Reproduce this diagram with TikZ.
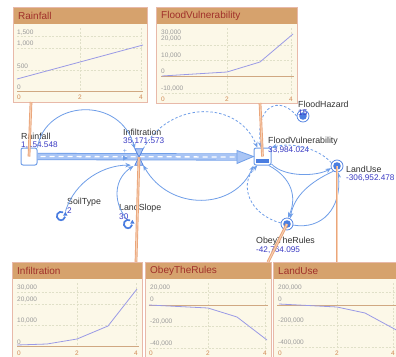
\documentclass[tikz,border=0pt]{standalone}
\usepackage{fontspec}
\setmainfont{Liberation Sans}
\usetikzlibrary{arrows.meta}
\definecolor{lnk}{HTML}{6F9EE8}
\definecolor{dkb}{HTML}{4A7DE0}
\definecolor{pipef}{HTML}{A9C5F5}
\definecolor{valc}{HTML}{3B3BC4}
\definecolor{labc}{HTML}{333333}
\definecolor{hdr}{HTML}{D6A26D}
\definecolor{pbg}{HTML}{FCF8E8}
\definecolor{pbd}{HTML}{E8B9A9}
\definecolor{ttl}{HTML}{A0302A}
\definecolor{axl}{HTML}{9A9A9A}
\definecolor{xl}{HTML}{D08A55}
\definecolor{chl}{HTML}{9A9AE6}
\definecolor{zer}{HTML}{D0A882}
\definecolor{grd}{HTML}{E0E0C8}
\definecolor{orl}{HTML}{EAA57A}
\definecolor{orc}{HTML}{F8D2B6}
\newcommand\chartpanel[5]{%
  \fill[pbg] (#1,#2) rectangle (#3,#4);
  \fill[hdr] (#1,#2) rectangle (#3,#2+17);
  \draw[pbd, line width=0.8pt] (#1,#2) rectangle (#3,#4);
  \node[paneltitle] at (#1+5,#2+8.5) {#5};
}
\tikzset{
 lab/.style={inner sep=0pt, anchor=west, text=labc, font=\fontsize{8.8}{10}\selectfont},
 val/.style={inner sep=0pt, anchor=west, text=valc, font=\fontsize{8.2}{9}\selectfont},
 link/.style={draw=lnk, line width=0.8pt, -{Stealth[length=5.5pt,width=4.5pt]}},
 dlink/.style={link, dash pattern=on 2.5pt off 2pt},
 orlink/.style={draw=orl, line width=0.9pt, double=orc, double distance=0.9pt},
 aux/.style={circle, draw=dkb, line width=0.7pt, fill=white, minimum size=12pt, inner sep=0pt,
   path picture={\fill[dkb] (path picture bounding box.center) circle[radius=3.8pt];}},
 conv/.style={circle, minimum size=12pt, inner sep=0pt},
 stockbox/.style={draw=lnk, line width=1pt, fill=white, rounded corners=2pt, minimum width=16pt, minimum height=17pt, inner sep=0pt},
 ylab/.style={inner sep=0pt, anchor=west, text=axl, font=\fontsize{6.5}{7}\selectfont},
 xlab/.style={inner sep=0pt, text=xl, font=\fontsize{6.5}{7}\selectfont},
 gridln/.style={draw=grd, line width=0.5pt, dash pattern=on 2pt off 1.5pt},
 zeroln/.style={draw=zer, line width=0.9pt},
 chart/.style={draw=chl, line width=0.8pt},
 paneltitle/.style={inner sep=0pt, anchor=west, text=ttl, font=\fontsize{10}{11}\selectfont},
}
\begin{document}
\begin{tikzpicture}[x=1pt,y=-1pt]
\useasboundingbox (0,0) rectangle (396,356);
\fill[white] (0,0) rectangle (396,356);

% ---------- chart panels ----------
\chartpanel{13}{7}{147}{102}{Rainfall}
\draw[gridln] (80,28)--(80,91) (141,28)--(141,91) (17,36)--(143,36) (17,48)--(143,48) (17,70)--(143,70);
\draw[zeroln] (17,91)--(143,91);
\draw[chart] (17,79)--(143,45);
\node[ylab] at (17,33) {1,500};
\node[ylab] at (17,44) {1,000};
\node[ylab] at (17,66) {500};
\node[ylab] at (17,87) {0};
\node[xlab] at (19,97) {0};
\node[xlab] at (80,97) {2};
\node[xlab] at (141,97) {4};

\chartpanel{156}{7}{297}{103}{FloodVulnerability}
\draw[gridln] (227,28)--(227,94) (291,28)--(291,94) (161,45)--(294,45) (161,60)--(294,60) (161,93)--(294,93);
\draw[zeroln] (161,76)--(294,76);
\draw[chart] (162,76)--(227,72)--(260,62)--(293,34);
\node[ylab] at (161,33) {30,000};
\node[ylab] at (161,39) {20,000};
\node[ylab] at (161,56) {10,000};
\node[ylab] at (161,71) {0};
\node[ylab] at (161,89) {-10,000};
\node[xlab] at (163,99) {0};
\node[xlab] at (227,99) {2};
\node[xlab] at (291,99) {4};

\chartpanel{12}{262}{142}{360}{Infiltration}
\draw[gridln] (77,283)--(77,346) (136,283)--(136,346) (17,292)--(139,292) (17,304)--(139,304) (17,325)--(139,325);
\draw[zeroln] (17,346)--(139,346);
\draw[chart] (17,345)--(47,344)--(77,339)--(108,326)--(137,289);
\node[ylab] at (17,288) {30,000};
\node[ylab] at (17,300) {20,000};
\node[ylab] at (17,321) {10,000};
\node[ylab] at (17,342) {0};
\node[xlab] at (19,353) {0};
\node[xlab] at (77,353) {2};
\node[xlab] at (136,353) {4};

\chartpanel{145}{262}{271}{360}{ObeyTheRules}
\draw[gridln] (208,283)--(208,349) (265,283)--(265,349) (149,292)--(268,292) (149,326)--(268,326) (149,348)--(268,348);
\draw[zeroln] (149,305)--(268,305);
\draw[chart] (149,305)--(208,308)--(237,317)--(267,340);
\node[ylab] at (150,288) {20,000};
\node[ylab] at (150,299) {0};
\node[ylab] at (150,322) {-20,000};
\node[ylab] at (150,344) {-40,000};
\node[xlab] at (151,353) {0};
\node[xlab] at (208,353) {2};
\node[xlab] at (265,353) {4};

\chartpanel{273}{262}{402}{360}{LandUse}
\draw[gridln] (337,283)--(337,349) (393,283)--(393,349) (277,292)--(396,292) (277,325)--(396,325) (277,347)--(396,347);
\draw[zeroln] (277,305)--(396,305);
\draw[chart] (279,304)--(337,307)--(365,313)--(400,332);
\node[ylab] at (278,288) {200,000};
\node[ylab] at (278,299) {0};
\node[ylab] at (278,321) {-200,000};
\node[ylab] at (278,343) {-400,000};
\node[xlab] at (280,353) {0};
\node[xlab] at (337,353) {2};
\node[xlab] at (393,353) {4};

% ---------- model nodes ----------
\node[stockbox] (rain) at (29,156.5) {};
\node[stockbox, minimum width=17pt] (fv) at (262.5,156.5) {};
\fill[dkb] (256,158.5) rectangle (269,163);
\node[inner sep=0pt, minimum width=8pt, minimum height=16pt] (valve) at (139,157) {};
\node[aux] (fh) at (303,116) {};
\node[aux] (lu) at (337,166) {};
\node[aux] (obey) at (287,224) {};
\node[conv] (soil) at (61,216) {};
\node[conv] (slope) at (128,224) {};
\foreach \c in {soil,slope}{
  \draw[dkb, line width=1.7pt] (\c.center) ++(60:4.2pt) arc[start angle=60, end angle=350, radius=4.2pt];
  \fill[dkb] (\c.center) ++(10:2.2pt) -- ++(0:4.4pt) -- ++(120:4.4pt) -- cycle;
}

% ---------- flow pipe ----------
\coordinate (pipeEnd) at (237,157);
\draw[draw=lnk, line width=0.8pt, double=pipef, double distance=5.6pt] (rain.east) -- (pipeEnd);
\draw[white, line width=1.3pt, dash pattern=on 5pt off 4pt] ([xshift=3pt]rain.east) -- (pipeEnd);
\filldraw[fill=pipef, draw=lnk, line width=0.8pt] (237,150.5) -- (fv.west) -- (237,163.5) -- cycle;
\fill[lnk] (123,155.5) -- (128,158) -- (123,160.5) -- cycle;
\filldraw[fill=pipef, draw=dkb, line width=0.7pt] (valve.north west) -- (valve.north east) -- (valve.south west) -- (valve.south east) -- cycle;
\node[text=lnk, inner sep=0pt, font=\fontsize{7}{7}\selectfont] (plus) at (125,151.5) {+};

% ---------- labels ----------
\node[lab] (rainL) at (21,136.5) {Rainfall};
\node[val] (rainV) at (21,145) {1,154.548};
\node[lab] (infL) at (123,132.5) {Infiltration};
\node[val] (infV) at (123,141) {35,171.573};
\node[lab] (fvL) at (268,141.5) {FloodVulnerability};
\node[val] (fvV) at (268,150) {33,984.024};
\node[lab] (fhL) at (298,104) {FloodHazard};
\node[val] (fhV) at (298,112.5) {15};
\node[lab] (luL) at (346,169.5) {LandUse};
\node[val] (luV) at (346,178) {-306,952.478};
\node[lab] (obL) at (256,241.5) {ObeyTheRules};
\node[val] (obV) at (256,250) {-42,764.095};
\node[lab] (stL) at (67,202.5) {SoilType};
\node[val] (stV) at (67,211) {2};
\node[lab] (lsL) at (119,208) {LandSlope};
\node[val] (lsV) at (119,216.5) {30};

% ---------- connectors ----------
\draw[link] (rain.north east) .. controls (45,100) and (120,95) .. (valve.north west);
\draw[link, shorten >=4pt] (soil.45) .. controls (75,180) and (105,165) .. (valve.south west);
\draw[link, shorten >=1.5pt] (slope.110) .. controls (112,200) and (115,178) .. (valve.south west);
\draw[link, {Stealth[length=5.5pt,width=4.5pt]}-{Stealth[length=5.5pt,width=4.5pt]}] (valve.south east) .. controls (170,212) and (235,210) .. (fv.south west);
\draw[dlink] (valve.north east) .. controls (170,100) and (238,100) .. (fv.120);
\draw[dlink] (fh.west) .. controls (280,95) and (255,105) .. (fv.100);
\draw[dlink] (lu.150) .. controls (318,148) and (292,142) .. (fv.north east);
\draw[link] (fv.-40) .. controls (285,178) and (318,176) .. (lu.200);
\draw[link] (fv.-55) .. controls (292,178) and (297,197) .. (obey.80);
\draw[link] (lu.235) .. controls (310,182) and (294,196) .. (obey.60);
\draw[link] (obey.-10) .. controls (322,230) and (342,208) .. (lu.-80);
\draw[dlink] (obey.170) .. controls (250,215) and (238,185) .. (fv.-120);

% ---------- chart links ----------
\coordinate (pkRain) at (31,102);
\coordinate (pkFV) at (260,103);
\coordinate (pkInf) at (136,262);
\coordinate (pkObey) at (268,262);
\coordinate (pkLU) at (337,262);
\draw[orlink] (pkRain) -- (rain.center);
\draw[orlink] (pkFV) -- (fv.center);
\draw[orlink] (pkInf) -- (valve.center);
\draw[orlink] (pkObey) -- (obey.center);
\draw[orlink] (pkLU) -- (lu.center);
\end{tikzpicture}
\end{document}
